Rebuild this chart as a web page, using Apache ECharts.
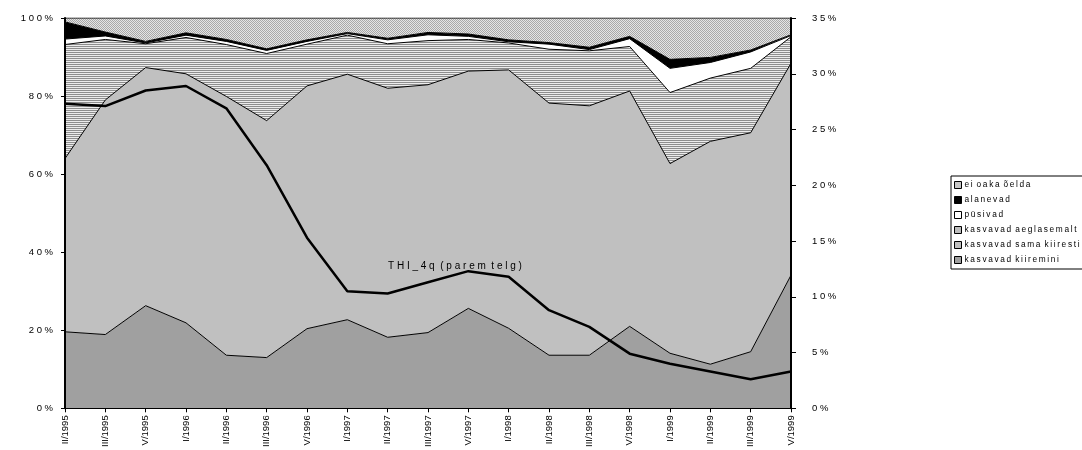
<!DOCTYPE html>
<html>
<head>
<meta charset="utf-8">
<script src="https://cdn.jsdelivr.net/npm/echarts@6/dist/echarts.min.js"></script>
<style>
  html, body { margin: 0; padding: 0; background: #fff; }
  #chart { width: 1082px; height: 450px; }
</style>
</head>
<body>
<div id="chart"></div>
<script>
// Quarters on the category axis
const quarters = ['II/1995', 'III/1995', 'V/1995', 'I/1996', 'II/1996', 'III/1996', 'V/1996',
  'I/1997', 'II/1997', 'III/1997', 'V/1997', 'I/1998', 'II/1998', 'III/1998', 'V/1998',
  'I/1999', 'II/1999', 'III/1999', 'V/1999'];

// Shares of answers, % (stacked to 100)
const kiiremini   = [19.6, 18.9, 26.3, 21.9, 13.6, 13.0, 20.4, 22.7, 18.2, 19.4, 25.6, 20.5, 13.6, 13.6, 21.0, 14.1, 11.3, 14.5, 34.1];
const samaKiiresti = [44.4, 60.1, 61.0, 63.8, 66.3, 60.7, 62.2, 62.9, 63.8, 63.5, 60.8, 66.2, 64.6, 63.9, 60.3, 48.6, 57.1, 56.1, 54.3];
const aeglasemalt = [29.2, 15.5, 6.1, 9.3, 13.3, 17.2, 10.7, 10.0, 11.4, 11.3, 8.1, 6.9, 13.8, 14.1, 11.4, 18.2, 16.2, 16.5, 6.8];
const pusivad     = [1.4, 0.9, 0.2, 0.6, 0.8, 0.8, 0.7, 0.4, 1.0, 1.5, 0.8, 0.3, 1.3, 0.3, 2.0, 6.2, 4.0, 4.2, 0.3];
const alanevad    = [4.4, 1.0, 0.4, 0.6, 0.5, 0.4, 0.4, 0.3, 0.4, 0.6, 0.6, 0.5, 0.4, 0.6, 0.6, 2.3, 1.3, 0.5, 0.2];
const eiOska      = [1.0, 3.6, 6.0, 3.8, 5.5, 7.9, 5.6, 3.7, 5.2, 3.7, 4.1, 5.6, 6.3, 7.5, 4.7, 10.6, 10.1, 8.2, 4.3];

// THI_4q, % on the right axis
const thi4q = [27.3, 27.1, 28.5, 28.9, 26.9, 21.8, 15.3, 10.5, 10.3, 11.3, 12.3, 11.8, 8.8, 7.3, 4.9, 4.0, 3.3, 2.6, 3.3];

// Axis tick values
const leftTicks = { min: 0, max: 100, step: 20 };
const rightTicks = { min: 0, max: 35, step: 5 };

const FONT = '"Liberation Sans", Arial, sans-serif';
const THIN = '\u2009';

// Spread characters apart (wide-tracked labels)
function spaced(s, gap) {
  gap = gap || ' ';
  return s.split(' ').map(w => w.split('').join(gap)).join(' ' + gap);
}

// Small canvas tiles used as fill patterns
function tile(w, h, cells) {
  const c = document.createElement('canvas');
  c.width = w; c.height = h;
  const ctx = c.getContext('2d');
  cells.forEach((row, y) => row.forEach((col, x) => {
    ctx.fillStyle = col;
    ctx.fillRect(x, y, 1, 1);
  }));
  return { image: c, repeat: 'repeat' };
}
const stripes = tile(1, 2, [['#8e8e8e'], ['#ececec']]);
const dots = tile(2, 2, [['#a8a8a8', '#e4e4e4'], ['#e4e4e4', '#a8a8a8']]);

function areaSeries(name, data, fill) {
  return {
    name, type: 'line', stack: 'total', data,
    symbol: 'none', smooth: false,
    lineStyle: { color: '#000', width: 1 },
    itemStyle: { color: fill, borderColor: '#000', borderWidth: 1 },
    areaStyle: { color: fill, opacity: 1 },
    emphasis: { disabled: true },
    z: 2
  };
}

const chart = echarts.init(document.getElementById('chart'), null, { renderer: 'canvas' });

chart.setOption({
  animation: false,
  textStyle: { fontFamily: FONT },
  grid: { left: 65, right: 291, top: 18, bottom: 41, containLabel: false },
  legend: {
    orient: 'vertical',
    left: 951, top: 176,
    padding: [4, 6, 4, 3],
    itemGap: 5,
    itemWidth: 7, itemHeight: 7,
    icon: 'rect',
    borderColor: '#000', borderWidth: 1,
    itemStyle: { borderColor: '#000', borderWidth: 1 },
    textStyle: { fontSize: 8.3, color: '#000', fontFamily: FONT, lineHeight: 10, padding: [0, 0, 0, -2] },
    formatter: n => spaced(n, THIN),
    data: ['ei oaka õelda', 'alanevad', 'püsivad', 'kasvavad aeglasemalt', 'kasvavad sama kiiresti', 'kasvavad kiiremini']
  },
  xAxis: {
    type: 'category',
    data: quarters,
    boundaryGap: false,
    axisLine: { lineStyle: { color: '#000', width: 1 } },
    axisTick: { show: true, length: 4, lineStyle: { color: '#000' } },
    axisLabel: { rotate: 90, fontSize: 9.5, color: '#000', margin: 7, interval: 0, fontFamily: FONT },
    splitLine: { show: false },
    z: 5
  },
  yAxis: [
    {
      type: 'value',
      min: leftTicks.min, max: leftTicks.max, interval: leftTicks.step,
      axisLine: { show: true, lineStyle: { color: '#000', width: 2 } },
      axisTick: { show: true, length: 4, lineStyle: { color: '#000' } },
      axisLabel: { fontSize: 9.5, color: '#000', margin: 12, fontFamily: FONT, formatter: v => spaced(v + '%') },
      splitLine: { show: false },
      z: 5
    },
    {
      type: 'value',
      min: rightTicks.min, max: rightTicks.max, interval: rightTicks.step,
      position: 'right',
      axisLine: { show: true, lineStyle: { color: '#000', width: 2 } },
      axisTick: { show: true, length: 5, lineStyle: { color: '#000' } },
      axisLabel: { fontSize: 9.5, color: '#000', margin: 21, fontFamily: FONT, formatter: v => spaced(v + '%') },
      splitLine: { show: false },
      z: 5
    }
  ],
  series: [
    areaSeries('kasvavad kiiremini', kiiremini, '#a0a0a0'),
    areaSeries('kasvavad sama kiiresti', samaKiiresti, '#c0c0c0'),
    areaSeries('kasvavad aeglasemalt', aeglasemalt, stripes),
    areaSeries('püsivad', pusivad, '#ffffff'),
    areaSeries('alanevad', alanevad, '#000000'),
    areaSeries('ei oaka õelda', eiOska, dots),
    {
      name: 'THI_4q', type: 'line', yAxisIndex: 1, data: thi4q,
      symbol: 'none',
      lineStyle: { color: '#000', width: 2.5 },
      itemStyle: { color: '#000' },
      emphasis: { disabled: true },
      z: 4
    }
  ],
  graphic: [
    {
      type: 'text',
      left: 388, top: 261,
      style: { text: spaced('THI_4q (parem telg)'), font: '10px ' + FONT, fill: '#000' },
      z: 10
    }
  ]
});
</script>
</body>
</html>
